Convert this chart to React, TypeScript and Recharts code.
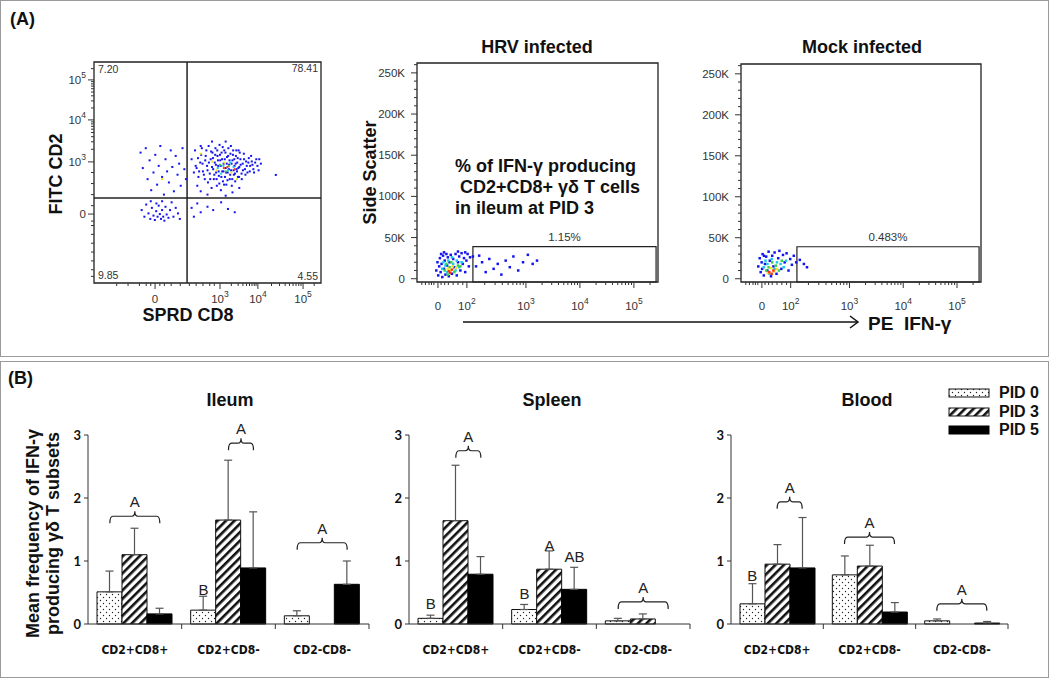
import React from "react";
import {
  ScatterChart,
  Scatter,
  ComposedChart,
  Bar,
  Line,
  ErrorBar,
  XAxis,
  YAxis,
  ReferenceArea,
  ReferenceLine,
  Legend,
} from "recharts";

// ── Fonts / colours ───────────────────────────────────────────────────────────
const ARIAL = "'Liberation Sans', Arial, sans-serif";
const CALIBRI = "Lato, 'Liberation Sans', sans-serif";
const NARROW = "'Liberation Sans Narrow', 'DejaVu Sans Condensed', Lato, sans-serif";
const INK = "#111";
const AXIS = "#333";
const FRAME = "#222";

const JET_BLUE = "#1414f0";
const JET_CYAN = "#18c8f0";
const JET_GREEN = "#38d048";
const JET_YELLOW = "#f2e21c";
const JET_RED = "#ff3214";

// ── Panel A: CD8 (x) vs CD2 (y), display channels 0..1000 ──────────────────────
const cd2cd8Blue = [
  [430, 560], [445, 600], [452, 520], [460, 480], [468, 545], [475, 610], [480, 505], [488, 470],
  [492, 575], [498, 530], [502, 455], [505, 620], [510, 495], [514, 560], [518, 430], [522, 590],
  [525, 515], [528, 470], [532, 545], [535, 610], [538, 500], [541, 440], [544, 575], [547, 530],
  [550, 485], [553, 625], [556, 555], [559, 420], [562, 590], [565, 505], [568, 460], [571, 540],
  [574, 600], [577, 480], [580, 520], [583, 445], [586, 570], [589, 500], [592, 610], [595, 535],
  [598, 470], [601, 585], [604, 510], [607, 440], [610, 555], [613, 600], [616, 490], [619, 530],
  [622, 460], [625, 575], [628, 515], [631, 545], [634, 480], [637, 600], [640, 525], [645, 560],
  [650, 495], [655, 540], [660, 585], [665, 515], [670, 550], [676, 500], [682, 565], [688, 530],
  [695, 550], [702, 515], [710, 545], [720, 530], [728, 560], [440, 500], [455, 440], [470, 415],
  [500, 400], [520, 640], [580, 640], [610, 410], [640, 430], [580, 395], [470, 620], [801, 489],
  [205, 590], [215, 520], [228, 610], [236, 470], [245, 555], [252, 420], [262, 500], [270, 580],
  [278, 445], [285, 530], [292, 620], [300, 480], [308, 400], [315, 560], [322, 505], [330, 455],
  [338, 600], [345, 525], [352, 415], [360, 575], [368, 490], [375, 540], [382, 440], [390, 610],
  [398, 515], [405, 470],
  [210, 330], [222, 300], [230, 355], [240, 315], [248, 290], [255, 340], [262, 305], [268, 285],
  [274, 325], [280, 300], [285, 350], [290, 312], [295, 290], [300, 330], [305, 300], [310, 282],
  [315, 345], [320, 310], [328, 295], [335, 330], [342, 365], [350, 300], [360, 340], [370, 315],
  [378, 290], [250, 370], [275, 360], [300, 370],
  [430, 340], [455, 360], [470, 320], [500, 345], [525, 330], [560, 365], [590, 335], [620, 320],
  [440, 300],
];
const cd2cd8BlueCore = [
  [448, 530], [458, 565], [463, 505], [472, 580], [478, 540], [484, 490], [490, 555], [495, 600],
  [500, 510], [506, 545], [512, 470], [516, 595], [520, 525], [524, 565], [530, 490], [534, 580],
  [537, 535], [540, 470], [543, 600], [546, 555], [549, 505], [552, 450], [555, 580], [558, 530],
  [561, 480], [564, 560], [567, 615], [570, 505], [573, 445], [576, 560], [579, 590], [582, 500],
  [585, 540], [588, 465], [591, 575], [594, 515], [597, 555], [600, 490], [603, 620], [606, 540],
  [609, 470], [612, 580], [615, 510], [618, 560], [621, 495], [624, 540], [627, 600], [630, 505],
  [633, 565], [636, 520], [639, 480], [642, 590], [646, 535], [651, 470], [656, 510], [661, 560],
  [667, 490], [673, 530], [680, 545], [686, 505], [692, 575], [698, 535], [705, 500], [715, 560],
  [725, 510], [735, 540],
];
const cd2cd8Cyan = [[545, 520], [570, 530], [590, 510], [600, 545], [560, 495], [615, 525]];
const cd2cd8Green = [[555, 535], [580, 505], [595, 530]];
const cd2cd8Yellow = [[540, 510], [575, 545], [605, 500], [520, 550], [470, 585], [300, 470], [630, 470]];
const cd2cd8Red = [[572, 520], [588, 525], [620, 515]];

const cd8Ticks = [100, 150, 200, 230, 250, 269, 290, 310, 340, 380, 420, 450, 480, 510, 530, 555,
  605, 635, 656, 672, 685, 696, 706, 714, 722, 782, 817, 842, 861, 877, 890, 902, 912, 921, 970];
const cd8Labels: Record<number, string> = { 269: "0", 555: "10^3", 722: "10^4", 921: "10^5" };
const cd2Ticks = [30, 60, 100, 140, 180, 220, 260, 280, 312, 350, 400, 450, 500, 548, 605, 639, 662,
  681, 696, 709, 720, 729, 738, 792, 824, 847, 864, 879, 891, 901, 911, 919, 970];
const cd2Labels: Record<number, string> = { 312: "0", 548: "10^3", 738: "10^4", 919: "10^5" };
const quadrantStats = ["7.20", "78.41", "9.85", "4.55"];

// ── Panel A: IFN-γ (x channels) vs side scatter (y, thousands) ─────────────────
const hrvBlue = [
  [80, 10], [85, 20], [88, 4], [92, 15], [95, 25], [98, 8], [102, 18], [105, 2], [108, 28], [112, 12],
  [115, 22], [118, 5], [122, 30], [125, 16], [128, 26], [132, 3], [135, 20], [140, 29], [145, 6],
  [150, 24], [155, 14], [160, 30], [165, 4], [170, 20], [175, 27], [180, 10], [185, 31], [190, 18],
  [195, 25], [200, 8], [205, 22], [210, 30], [215, 15], [220, 26], [112, 32], [170, 33], [200, 32],
  [100, 30], [232, 27], [245, 15], [258, 28], [270, 20], [285, 8], [300, 24], [318, 12], [335, 18],
  [350, 5], [368, 22], [385, 14], [400, 27], [420, 10], [440, 20], [460, 29], [480, 18], [498, 22],
];
const hrvCyan = [[105, 12], [110, 20], [118, 16], [125, 8], [130, 22], [150, 18], [160, 10], [165, 22],
  [175, 14], [185, 20], [145, 26]];
const hrvGreen = [[115, 10], [122, 18], [135, 14], [142, 20], [155, 8], [170, 16], [180, 15], [128, 5]];
const hrvYellow = [[128, 12], [140, 10], [148, 15], [162, 13]];
const hrvRed = [[132, 9], [138, 7], [145, 11]];

const mockBlue = [
  [72, 15], [78, 25], [82, 8], [86, 20], [90, 30], [95, 4], [100, 18], [105, 27], [110, 10], [115, 33],
  [120, 22], [125, 3], [130, 28], [135, 15], [140, 32], [148, 6], [155, 25], [160, 34], [168, 12],
  [175, 29], [182, 20], [190, 31], [198, 10], [205, 24], [212, 17], [220, 28], [230, 20], [245, 23],
  [262, 18], [275, 14], [88, 12], [96, 28],
];
const mockCyan = [[95, 14], [102, 22], [110, 18], [128, 24], [140, 12], [150, 20], [165, 18], [178, 14],
  [188, 22], [118, 6]];
const mockGreen = [[105, 10], [115, 14], [130, 20], [145, 16], [158, 10], [170, 22]];
const mockYellow = [[112, 7], [125, 13], [138, 9], [150, 12]];
const mockRed = [[118, 8], [128, 6], [135, 10]];

const ifnTicks = [20, 35, 50, 60, 70, 87, 100, 115, 130, 150, 170, 190, 207, 281, 324, 354, 378, 398,
  414, 428, 441, 452, 519, 559, 587, 609, 626, 641, 654, 666, 676, 743, 783, 811, 833, 850, 865, 878,
  890, 900, 967];
const ifnLabels: Record<number, string> = { 87: "0", 207: "10^2", 452: "10^3", 676: "10^4", 900: "10^5" };
const sscTicks = [0, 10, 20, 30, 40, 50, 60, 70, 80, 90, 100, 110, 120, 130, 140, 150, 160, 170, 180,
  190, 200, 210, 220, 230, 240, 250, 260];
const sscLabels: Record<number, string> = { 0: "0", 50: "50K", 100: "100K", 150: "150K", 200: "200K", 250: "250K" };

// ── Panel B: mean frequency of IFN-γ producing γδ T subsets ────────────────────
const subsets = ["CD2+CD8+", "CD2+CD8-", "CD2-CD8-"];

const ileumPid0 = [0.51, 0.22, 0.13];
const ileumPid0Err = [0.33, 0.22, 0.08];
const ileumPid3 = [1.1, 1.65, 0];
const ileumPid3Err = [0.42, 0.95, 0];
const ileumPid5 = [0.16, 0.89, 0.63];
const ileumPid5Err = [0.09, 0.89, 0.37];

const spleenPid0 = [0.09, 0.23, 0.05];
const spleenPid0Err = [0.05, 0.08, 0.04];
const spleenPid3 = [1.64, 0.87, 0.08];
const spleenPid3Err = [0.88, 0.29, 0.08];
const spleenPid5 = [0.79, 0.55, 0];
const spleenPid5Err = [0.28, 0.35, 0];

const bloodPid0 = [0.32, 0.78, 0.05];
const bloodPid0Err = [0.32, 0.3, 0.03];
const bloodPid3 = [0.95, 0.92, 0];
const bloodPid3Err = [0.31, 0.33, 0];
const bloodPid5 = [0.89, 0.19, 0.015];
const bloodPid5Err = [0.8, 0.15, 0.025];

// significance letters: bars from..to (0 = PID 0, 1 = PID 3, 2 = PID 5), at = height in data units
interface Mark { cat: number; from: number; to: number; at: number; text: string }
const ileumMarks: Mark[] = [
  { cat: 0, from: 0, to: 2, at: 1.71, text: "A" },
  { cat: 1, from: 0, to: 0, at: 0.46, text: "B" },
  { cat: 1, from: 1, to: 2, at: 2.87, text: "A" },
  { cat: 2, from: 0, to: 2, at: 1.29, text: "A" },
];
const spleenMarks: Mark[] = [
  { cat: 0, from: 0, to: 0, at: 0.24, text: "B" },
  { cat: 0, from: 1, to: 2, at: 2.75, text: "A" },
  { cat: 1, from: 0, to: 0, at: 0.4, text: "B" },
  { cat: 1, from: 1, to: 1, at: 1.16, text: "A" },
  { cat: 1, from: 2, to: 2, at: 0.98, text: "AB" },
  { cat: 2, from: 0, to: 2, at: 0.35, text: "A" },
];
const bloodMarks: Mark[] = [
  { cat: 0, from: 0, to: 0, at: 0.68, text: "B" },
  { cat: 0, from: 1, to: 2, at: 1.94, text: "A" },
  { cat: 1, from: 0, to: 2, at: 1.38, text: "A" },
  { cat: 2, from: 0, to: 2, at: 0.32, text: "A" },
];

const BAR = 25;
const Y_AXIS_W = 30;

// ── Helpers ───────────────────────────────────────────────────────────────────
const toXY = (a: number[][]) => a.map(([x, y]) => ({ x, y }));

function PowLabel({ t }: { t: string }) {
  const [base, exp] = t.split("^");
  if (!exp) return <>{base}</>;
  return (
    <>
      {base}
      <tspan dy={-6} fontSize={8.5}>{exp}</tspan>
    </>
  );
}

const flowXTick = (labels: Record<number, string>, dy: number) => (p: any) => {
  const v = p.payload?.value;
  const lab = labels[v];
  return (
    <g key={`xt-${v}`}>
      <line x1={p.x} x2={p.x} y1={p.y} y2={p.y + (lab ? 6 : 3)} stroke={AXIS} strokeWidth={1} />
      {lab && (
        <text x={p.x} y={p.y + dy} textAnchor="middle" fontSize={11.5} fill="#333" fontFamily={ARIAL}>
          <PowLabel t={lab} />
        </text>
      )}
    </g>
  );
};

const flowYTick = (labels: Record<number, string>, gap: number) => (p: any) => {
  const v = p.payload?.value;
  const lab = labels[v];
  return (
    <g key={`yt-${v}`}>
      <line x1={p.x} x2={p.x - (lab ? 6 : 3)} y1={p.y} y2={p.y} stroke={AXIS} strokeWidth={1} />
      {lab && (
        <text x={p.x - gap} y={p.y + 4} textAnchor="end" fontSize={11.5} fill="#333" fontFamily={ARIAL}>
          <PowLabel t={lab} />
        </text>
      )}
    </g>
  );
};

const xTitle = (text: string, dx: number, dy: number) => ({
  content: (lp: any) => {
    const vb = lp.viewBox || { x: 0, y: 0, width: 0, height: 0 };
    return (
      <text x={vb.x + vb.width / 2 + dx} y={vb.y + dy} textAnchor="middle"
        fontFamily={ARIAL} fontWeight={700} fontSize={18} fill={INK}>
        {text}
      </text>
    );
  },
});

const yTitle = (lines: string[], dxs: number[], dy: number, size: number) => ({
  content: (lp: any) => {
    const vb = lp.viewBox || { x: 0, y: 0, width: 0, height: 0 };
    const cy = vb.y + vb.height / 2 + dy;
    return (
      <g>
        {lines.map((t, i) => (
          <text key={t} transform={`translate(${vb.x + dxs[i]},${cy}) rotate(-90)`} textAnchor="middle"
            dominantBaseline="central" fontFamily={ARIAL} fontWeight={700} fontSize={size} fill={INK}>
            {t}
          </text>
        ))}
      </g>
    );
  },
});

const pixel = (color: string, size: number) => (p: any) =>
  <rect x={p.cx - size / 2} y={p.cy - size / 2} width={size} height={size} fill={color} />;

// ── Flow plot ─────────────────────────────────────────────────────────────────
interface Layer { pts: number[][]; color: string; size: number }
interface FlowProps {
  left: number; top: number; width: number; height: number;
  margin: { top: number; right: number; bottom: number; left: number };
  yWidth: number;
  xDomain: [number, number]; yDomain: [number, number];
  xTicks: number[]; xLabels: Record<number, string>; xDy: number;
  yTicks: number[]; yLabels: Record<number, string>; yGap: number;
  layers: Layer[];
  xLabel?: any; yLabel?: any;
  children?: React.ReactNode;
}

function FlowPlot(p: FlowProps) {
  return (
    <div style={{ position: "absolute", left: p.left, top: p.top }}>
      <ScatterChart width={p.width} height={p.height} margin={p.margin}>
        <XAxis type="number" dataKey="x" domain={p.xDomain} ticks={p.xTicks} interval={0} allowDataOverflow
          height={30} axisLine={false} tickLine={false} tickSize={0} tickMargin={0}
          tick={flowXTick(p.xLabels, p.xDy)} label={p.xLabel} />
        <YAxis type="number" dataKey="y" domain={p.yDomain} ticks={p.yTicks} interval={0} allowDataOverflow
          width={p.yWidth} axisLine={false} tickLine={false} tickSize={0} tickMargin={0}
          tick={flowYTick(p.yLabels, p.yGap)} label={p.yLabel} />
        <ReferenceArea x1={p.xDomain[0]} x2={p.xDomain[1]} y1={p.yDomain[0]} y2={p.yDomain[1]}
          fill="none" fillOpacity={0} stroke={FRAME} strokeWidth={1.3} />
        {p.children}
        {p.layers.map((l, i) => (
          <Scatter key={i} data={toXY(l.pts)} shape={pixel(l.color, l.size)} isAnimationActive={false} />
        ))}
      </ScatterChart>
    </div>
  );
}

// ── Bar chart (one tissue) ────────────────────────────────────────────────────
interface TissueProps {
  id: string; left: number; width: number; marginLeft: number; marginRight: number;
  pid0: number[]; pid0Err: number[]; pid3: number[]; pid3Err: number[];
  pid5: number[]; pid5Err: number[]; marks: Mark[];
  withYTitle?: boolean; withLegend?: boolean;
}

const markDot = (slot: number) => (props: any) => {
  const { cx, cy, payload, index } = props;
  const mk: Mark | undefined = payload?.marks?.[slot];
  if (!mk || cx == null || cy == null) return <g key={`m${slot}-${index}`} />;
  const xa = cx + (mk.from - 1) * BAR;
  const xb = cx + (mk.to - 1) * BAR;
  const txt = { fontFamily: ARIAL, fontSize: 15, fill: "#222", textAnchor: "middle" as const };
  if (mk.from === mk.to) {
    return <text key={`m${slot}-${index}`} x={xa} y={cy} {...txt}>{mk.text}</text>;
  }
  const xm = (xa + xb) / 2;
  const d = `M${xa},${cy + 7} Q${xa},${cy} ${xa + 3},${cy} L${xm - 3},${cy} Q${xm},${cy} ${xm},${cy - 5}`
    + ` Q${xm},${cy} ${xm + 3},${cy} L${xb - 3},${cy} Q${xb},${cy} ${xb},${cy + 7}`;
  return (
    <g key={`m${slot}-${index}`}>
      <path d={d} fill="none" stroke="#222" strokeWidth={1.2} />
      <text x={xm} y={cy - 9} {...txt}>{mk.text}</text>
    </g>
  );
};

function TissueChart(p: TissueProps) {
  const plotW = p.width - p.marginLeft - Y_AXIS_W - p.marginRight;
  const band = plotW / subsets.length;
  const rows = subsets.map((cat, i) => {
    const ms = p.marks.filter((m) => m.cat === i);
    return {
      cat,
      p0: p.pid0[i], p3: p.pid3[i], p5: p.pid5[i],
      e0: [0, p.pid0Err[i]], e3: [0, p.pid3Err[i]], e5: [0, p.pid5Err[i]],
      marks: ms,
      m0: ms[0] ? ms[0].at : null,
      m1: ms[1] ? ms[1].at : null,
      m2: ms[2] ? ms[2].at : null,
    };
  });
  const dots = `url(#dots-${p.id})`;
  const hatch = `url(#hatch-${p.id})`;
  const series = [
    { key: "p0", err: "e0", name: "PID 0", fill: dots, stroke: INK },
    { key: "p3", err: "e3", name: "PID 3", fill: hatch, stroke: INK },
    { key: "p5", err: "e5", name: "PID 5", fill: "#000", stroke: "#000" },
  ];

  const catTick = (tp: any) => (
    <g key={`ct-${tp.payload?.value}`}>
      <line x1={tp.x + band / 2} x2={tp.x + band / 2} y1={tp.y} y2={tp.y + 5} stroke={AXIS} />
      <text x={tp.x} y={tp.y + 30} textAnchor="middle" fontFamily={NARROW} fontWeight={700}
        fontSize={12} fill={INK}>
        {tp.payload?.value}
      </text>
    </g>
  );

  const legendBox = () => (
    <div style={{ display: "flex", flexDirection: "column", whiteSpace: "nowrap" }}>
      {series.map((s) => (
        <div key={s.key} style={{ display: "flex", alignItems: "center", height: 18.5 }}>
          <svg width={42} height={10} style={{ marginRight: 9, flex: "none" }}>
            <rect x={1} y={1} width={40} height={8} fill={s.fill} stroke={s.stroke} strokeWidth={1} />
          </svg>
          <span style={{ fontFamily: ARIAL, fontWeight: 700, fontSize: 16, lineHeight: "16px", color: INK }}>
            {s.name}
          </span>
        </div>
      ))}
    </div>
  );

  return (
    <div style={{ position: "absolute", left: p.left, top: 380 }}>
      <ComposedChart width={p.width} height={290} data={rows} barGap={0}
        margin={{ top: 55, right: p.marginRight, bottom: 6, left: p.marginLeft }}>
        <defs>
          <pattern id={`dots-${p.id}`} width={6} height={6} patternUnits="userSpaceOnUse">
            <rect width={6} height={6} fill="#fff" />
            <circle cx={1.5} cy={1.5} r={0.7} fill="#222" />
            <circle cx={4.5} cy={4.5} r={0.7} fill="#222" />
          </pattern>
          <pattern id={`hatch-${p.id}`} width={6} height={6} patternUnits="userSpaceOnUse"
            patternTransform="rotate(45)">
            <rect width={6} height={6} fill="#fff" />
            <rect width={2.6} height={6} fill="#111" />
          </pattern>
        </defs>
        <XAxis dataKey="cat" height={40} interval={0} axisLine={{ stroke: AXIS }} tickLine={false}
          tickSize={0} tickMargin={0} tick={catTick} />
        <YAxis type="number" domain={[0, 3]} ticks={[0, 1, 2, 3]} interval={0} width={Y_AXIS_W}
          axisLine={{ stroke: AXIS }} tickLine={{ stroke: AXIS }} tickSize={4} tickMargin={3}
          tick={{ fontFamily: CALIBRI, fontWeight: 700, fontSize: 13, fill: INK }}
          label={p.withYTitle
            ? yTitle(["Mean frequency of IFN-γ", "producing γδ T subsets"], [-25, -5], 4, 18)
            : undefined} />
        {series.map((s) => (
          <Bar key={s.key} dataKey={s.key} name={s.name} barSize={BAR} fill={s.fill} stroke={s.stroke}
            strokeWidth={1} isAnimationActive={false}>
            <ErrorBar dataKey={s.err} direction="y" width={4} stroke="#555" strokeWidth={1.2} />
          </Bar>
        ))}
        {["m0", "m1", "m2"].map((k, slot) => (
          <Line key={k} dataKey={k} stroke="none" legendType="none" dot={markDot(slot)} activeDot={false}
            isAnimationActive={false} />
        ))}
        {p.withLegend && (
          <Legend layout="vertical" align="center" verticalAlign="middle" content={legendBox}
            wrapperStyle={{ top: 4, left: 278, width: 120 }} />
        )}
      </ComposedChart>
    </div>
  );
}

// ── Page ──────────────────────────────────────────────────────────────────────
const textAt = (left: number, top: number, size: number, extra: React.CSSProperties = {}) =>
  ({ position: "absolute", left, top, fontFamily: ARIAL, fontWeight: 700, fontSize: size,
    lineHeight: `${size}px`, color: INK, whiteSpace: "pre", ...extra }) as React.CSSProperties;

const centered = (cx: number, top: number, size: number) =>
  textAt(cx - 100, top, size, { width: 200, textAlign: "center" });

export default function App() {
  return (
    <div style={{ position: "absolute", left: 0, top: 0, width: 1050, height: 679, background: "#fff",
      overflow: "hidden" }}>
      <div style={{ position: "absolute", left: 0, top: 0, width: 1049, height: 357,
        border: "1.5px solid #9a9a9a", boxSizing: "border-box" }} />
      <div style={{ position: "absolute", left: 0, top: 361, width: 1049, height: 317,
        border: "1.5px solid #9a9a9a", boxSizing: "border-box" }} />

      <div style={textAt(10, 10, 18)}>(A)</div>
      <div style={textAt(8, 369, 18)}>(B)</div>

      {/* CD2 vs CD8 gate */}
      <FlowPlot left={0} top={0} width={340} height={340}
        margin={{ top: 62, right: 19, bottom: 27, left: 50 }} yWidth={44}
        xDomain={[0, 1000]} yDomain={[0, 1000]}
        xTicks={cd8Ticks} xLabels={cd8Labels} xDy={20}
        yTicks={cd2Ticks} yLabels={cd2Labels} yGap={8}
        xLabel={xTitle("SPRD CD8", -19.5, 38)}
        yLabel={yTitle(["FITC CD2"], [6], 1.5, 18)}
        layers={[
          { pts: cd2cd8Blue, color: JET_BLUE, size: 2 },
          { pts: cd2cd8BlueCore, color: JET_BLUE, size: 2 },
          { pts: cd2cd8Cyan, color: JET_CYAN, size: 2 },
          { pts: cd2cd8Green, color: JET_GREEN, size: 2 },
          { pts: cd2cd8Yellow, color: JET_YELLOW, size: 2 },
          { pts: cd2cd8Red, color: JET_RED, size: 2 },
        ]}>
        <ReferenceArea x1={0} x2={410} y1={385} y2={1000} fill="none" fillOpacity={0} stroke="none"
          label={{ value: quadrantStats[0], position: "insideTopLeft", offset: 4, fontSize: 10.5, fill: "#333", fontFamily: ARIAL }} />
        <ReferenceArea x1={410} x2={1000} y1={385} y2={1000} fill="none" fillOpacity={0} stroke="none"
          label={{ value: quadrantStats[1], position: "insideTopRight", offset: 3, fontSize: 10.5, fill: "#333", fontFamily: ARIAL }} />
        <ReferenceArea x1={0} x2={410} y1={0} y2={385} fill="none" fillOpacity={0} stroke="none"
          label={{ value: quadrantStats[2], position: "insideBottomLeft", offset: 4, fontSize: 10.5, fill: "#333", fontFamily: ARIAL }} />
        <ReferenceArea x1={410} x2={1000} y1={0} y2={385} fill="none" fillOpacity={0} stroke="none"
          label={{ value: quadrantStats[3], position: "insideBottomRight", offset: 3, fontSize: 10.5, fill: "#333", fontFamily: ARIAL }} />
        <ReferenceLine x={410} stroke={FRAME} strokeWidth={1.5} />
        <ReferenceLine y={385} stroke={FRAME} strokeWidth={1.5} />
      </FlowPlot>

      {/* HRV infected */}
      <div style={centered(537, 38, 18)}>HRV infected</div>
      <FlowPlot left={360} top={40} width={310} height={290}
        margin={{ top: 23, right: 12, bottom: 18, left: 17 }} yWidth={40}
        xDomain={[0, 1000]} yDomain={[-4, 262]}
        xTicks={ifnTicks} xLabels={ifnLabels} xDy={28}
        yTicks={sscTicks} yLabels={sscLabels} yGap={12}
        yLabel={yTitle(["Side Scatter"], [-7], 0, 18)}
        layers={[
          { pts: hrvBlue, color: JET_BLUE, size: 2.5 },
          { pts: hrvCyan, color: JET_CYAN, size: 2.5 },
          { pts: hrvGreen, color: JET_GREEN, size: 2.5 },
          { pts: hrvYellow, color: JET_YELLOW, size: 2.5 },
          { pts: hrvRed, color: JET_RED, size: 2.5 },
        ]}>
        <ReferenceArea x1={232} x2={992} y1={-4} y2={39} fill="none" fillOpacity={0} stroke={FRAME}
          strokeWidth={1.2}
          label={{ value: "1.15%", position: "top", offset: 6, fontSize: 11.5, fill: "#333", fontFamily: ARIAL }} />
      </FlowPlot>
      <div style={textAt(455, 156, 18, { lineHeight: "21px" })}>
        {"% of IFN-γ producing\n CD2+CD8+ γδ T cells\nin ileum at PID 3"}
      </div>

      {/* Mock infected */}
      <div style={centered(862, 38, 18)}>Mock infected</div>
      <FlowPlot left={690} top={40} width={310} height={290}
        margin={{ top: 24, right: 19, bottom: 18, left: 11 }} yWidth={40}
        xDomain={[0, 1000]} yDomain={[-4, 262]}
        xTicks={ifnTicks} xLabels={ifnLabels} xDy={28}
        yTicks={sscTicks} yLabels={sscLabels} yGap={12}
        layers={[
          { pts: mockBlue, color: JET_BLUE, size: 2.5 },
          { pts: mockCyan, color: JET_CYAN, size: 2.5 },
          { pts: mockGreen, color: JET_GREEN, size: 2.5 },
          { pts: mockYellow, color: JET_YELLOW, size: 2.5 },
          { pts: mockRed, color: JET_RED, size: 2.5 },
        ]}>
        <ReferenceArea x1={233} x2={992} y1={-4} y2={39} fill="none" fillOpacity={0} stroke={FRAME}
          strokeWidth={1.2}
          label={{ value: "0.483%", position: "top", offset: 6, fontSize: 11.5, fill: "#333", fontFamily: ARIAL }} />
      </FlowPlot>

      {/* shared x-axis arrow */}
      <svg style={{ position: "absolute", left: 455, top: 312 }} width={410} height={20}>
        <line x1={8} x2={403} y1={10} y2={10} stroke={INK} strokeWidth={1.5} />
        <polyline points="395,4 403,10 395,16" fill="none" stroke={INK} strokeWidth={1.5} />
      </svg>
      <div style={textAt(868, 314, 19)}>{"PE  IFN-γ"}</div>

      {/* Panel B */}
      <div style={centered(230, 391, 18)}>Ileum</div>
      <div style={centered(552, 391, 18)}>Spleen</div>
      <div style={centered(867, 391, 18)}>Blood</div>

      <TissueChart id="ileum" left={0} width={380} marginLeft={58} marginRight={11}
        pid0={ileumPid0} pid0Err={ileumPid0Err} pid3={ileumPid3} pid3Err={ileumPid3Err}
        pid5={ileumPid5} pid5Err={ileumPid5Err} marks={ileumMarks} withYTitle />
      <TissueChart id="spleen" left={345} width={360} marginLeft={34} marginRight={15}
        pid0={spleenPid0} pid0Err={spleenPid0Err} pid3={spleenPid3} pid3Err={spleenPid3Err}
        pid5={spleenPid5} pid5Err={spleenPid5Err} marks={spleenMarks} />
      <TissueChart id="blood" left={670} width={370} marginLeft={31} marginRight={32}
        pid0={bloodPid0} pid0Err={bloodPid0Err} pid3={bloodPid3} pid3Err={bloodPid3Err}
        pid5={bloodPid5} pid5Err={bloodPid5Err} marks={bloodMarks} withLegend />
    </div>
  );
}
